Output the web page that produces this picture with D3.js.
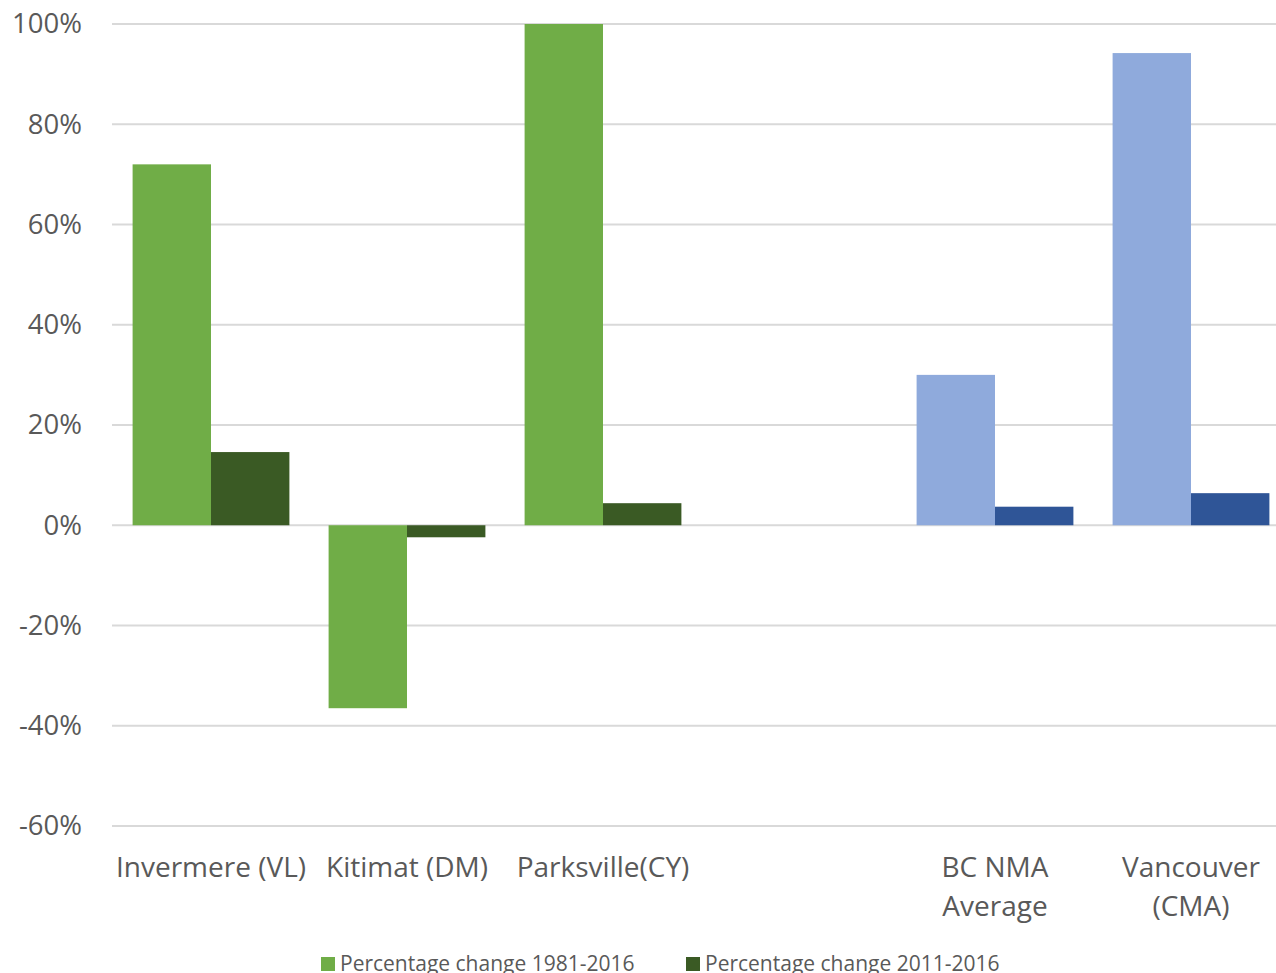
<!DOCTYPE html>
<html>
<head>
<meta charset="utf-8">
<script src="https://cdn.jsdelivr.net/npm/d3@7"></script>
<style>
  html, body { margin: 0; padding: 0; background: #fff; }
  svg { display: block; font-family: "Open Sans", "DejaVu Sans", sans-serif; }
</style>
</head>
<body>
<svg id="chart" width="1276" height="973"></svg>
<script>
// Population change by community, two periods
const categories = ["Invermere (VL)", "Kitimat (DM)", "Parksville(CY)", "", "BC NMA\nAverage", "Vancouver\n(CMA)"];
const seriesNames = ["Percentage change 1981-2016", "Percentage change 2011-2016"];
const change1981 = [0.72, -0.365, 1.00, null, 0.30, 0.942];
const change2011 = [0.146, -0.024, 0.044, null, 0.037, 0.064];
const tickValues = [-0.6, -0.4, -0.2, 0, 0.2, 0.4, 0.6, 0.8, 1.0];

// Green for the communities, blue for the reference areas
const lightColors = ["#70AD47", "#70AD47", "#70AD47", "#70AD47", "#8FAADC", "#8FAADC"];
const darkColors  = ["#3A5A24", "#3A5A24", "#3A5A24", "#3A5A24", "#2F5597", "#2F5597"];

const svg = d3.select("#chart");
const textColor = "#595959";

const x = d3.scaleBand()
  .domain(d3.range(categories.length))
  .range([113, 1289])
  .paddingInner(0.2)
  .paddingOuter(0.1);

const xInner = d3.scaleBand()
  .domain([0, 1])
  .range([0, x.bandwidth()]);

const y = d3.scaleLinear()
  .domain([-0.6, 1.0])
  .range([826, 24]);

// Gridlines
svg.append("g")
  .selectAll("line")
  .data(tickValues)
  .join("line")
  .attr("x1", 112)
  .attr("x2", 1276)
  .attr("y1", d => y(d))
  .attr("y2", d => y(d))
  .attr("stroke", "#D9D9D9")
  .attr("stroke-width", 2);

// Y axis labels (plain hyphen for negatives)
const yAxis = d3.axisLeft(y)
  .tickValues(tickValues)
  .tickFormat(d => Math.round(d * 100) + "%")
  .tickSize(0)
  .tickPadding(0);

const yG = svg.append("g")
  .attr("transform", "translate(82,0)")
  .call(yAxis);
yG.select(".domain").remove();
yG.selectAll("text")
  .attr("fill", textColor)
  .attr("font-size", 27.5)
  .attr("font-family", "'Open Sans', sans-serif");

// Bars
const series = [
  { values: change1981, colors: lightColors },
  { values: change2011, colors: darkColors }
];

series.forEach((s, si) => {
  svg.append("g")
    .selectAll("rect")
    .data(s.values.map((v, i) => ({ v, i })).filter(d => d.v !== null))
    .join("rect")
    .attr("x", d => x(d.i) + xInner(si))
    .attr("width", xInner.bandwidth())
    .attr("y", d => y(Math.max(0, d.v)))
    .attr("height", d => Math.abs(y(d.v) - y(0)))
    .attr("fill", d => s.colors[d.i]);
});

// Category labels
const catG = svg.append("g");
categories.forEach((c, i) => {
  const lines = c.split("\n");
  const cx = x(i) + x.bandwidth() / 2;
  const t = catG.append("text")
    .attr("x", cx)
    .attr("y", 877)
    .attr("text-anchor", "middle")
    .attr("fill", textColor)
    .attr("font-size", 28);
  lines.forEach((ln, li) => {
    t.append("tspan")
      .attr("x", cx)
      .attr("dy", li === 0 ? 0 : 39)
      .text(ln);
  });
});

// Legend
const legendX = [321, 686];
const legendColors = [lightColors[0], darkColors[0]];
const legend = svg.append("g");
seriesNames.forEach((name, i) => {
  legend.append("rect")
    .attr("x", legendX[i])
    .attr("y", 957)
    .attr("width", 14)
    .attr("height", 14)
    .attr("fill", legendColors[i]);
  legend.append("text")
    .attr("x", legendX[i] + 19)
    .attr("y", 971)
    .attr("fill", textColor)
    .attr("font-size", 21)
    .text(name);
});
</script>
</body>
</html>
